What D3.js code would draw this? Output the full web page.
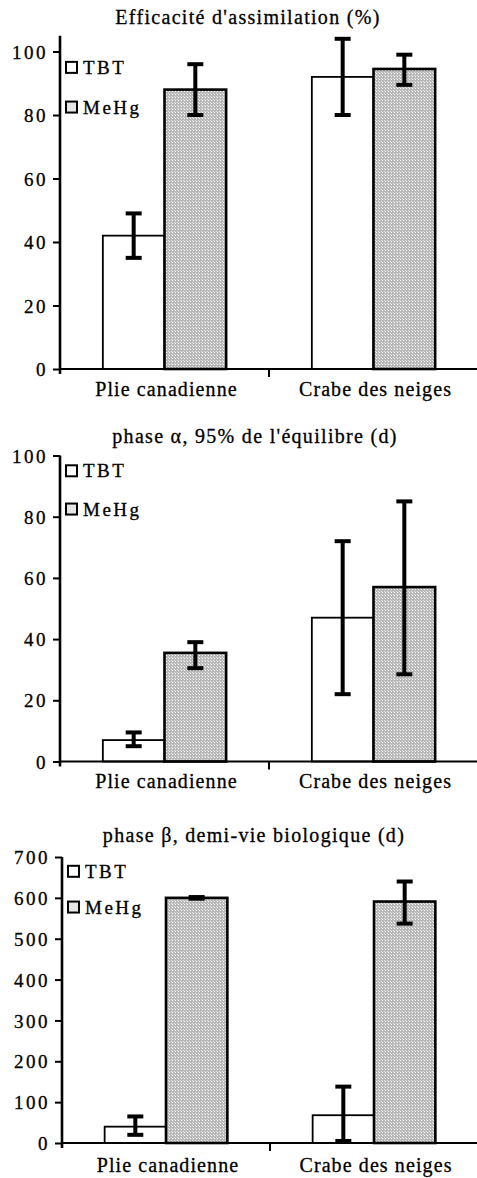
<!DOCTYPE html>
<html>
<head>
<meta charset="utf-8">
<script src="https://cdn.jsdelivr.net/npm/d3@7"></script>
<style>
  body { margin: 0; background: #fff; }
  text { font-family: "Liberation Serif", "Times New Roman", serif; fill: #000; stroke: #000; stroke-width: 0.3px; }
</style>
</head>
<body>
<div id="chart"></div>
<script>
// categories
const species = ["Plie canadienne", "Crabe des neiges"];
const compounds = ["TBT", "MeHg"];

// panel 1 : assimilation efficiency (%)
const effTitle = "Efficacité d'assimilation (%)";
const effTicks = [0, 20, 40, 60, 80, 100];
const effTBT = [42, 92];
const effTBTLow = [35, 80];
const effTBTHigh = [49, 104];
const effMeHg = [88, 94.5];
const effMeHgLow = [80, 89.5];
const effMeHgHigh = [96, 99];

// panel 2 : alpha phase, 95% of equilibrium (d)
const alphaTitle = "phase α, 95% de l'équilibre (d)";
const alphaTicks = [0, 20, 40, 60, 80, 100];
const alphaTBT = [7, 47];
const alphaTBTLow = [5, 22];
const alphaTBTHigh = [9.5, 72];
const alphaMeHg = [35.5, 57];
const alphaMeHgLow = [30.5, 28.5];
const alphaMeHgHigh = [39, 85];

// panel 3 : beta phase, biological half-life (d)
const betaTitle = "phase β, demi-vie biologique (d)";
const betaTicks = [0, 100, 200, 300, 400, 500, 600, 700];
const betaTBT = [40, 68];
const betaTBTLow = [20, 5];
const betaTBTHigh = [65, 138];
const betaMeHg = [600, 591];
const betaMeHgLow = [598, 537];
const betaMeHgHigh = [602, 640];

const width = 477, height = 1178;

const svg = d3.select("#chart").append("svg")
    .attr("width", width)
    .attr("height", height);

// stippled grey fill for the MeHg bars
const defs = svg.append("defs");
const pat = defs.append("pattern")
    .attr("id", "stipple")
    .attr("patternUnits", "userSpaceOnUse")
    .attr("width", 3).attr("height", 3);
pat.append("rect").attr("width", 3).attr("height", 3).attr("fill", "#b8b8b8");
pat.append("rect").attr("x", 1).attr("y", 1).attr("width", 1).attr("height", 1).attr("fill", "#fff");
pat.append("rect").attr("x", 0).attr("y", 0).attr("width", 1).attr("height", 1).attr("fill", "#e4e4e4");

const fills = {TBT: "#fff", MeHg: "url(#stipple)"};

function drawPanel(cfg, title, ticks, series) {
  const g = svg.append("g");

  const yMax = d3.max(ticks);
  const y = d3.scaleLinear()
      .domain([0, yMax])
      .range([cfg.y0, cfg.yTop]);

  const x0 = d3.scaleBand()
      .domain(species)
      .range([cfg.axisX, cfg.right]);
  const bw = x0.bandwidth();
  const x1 = d3.scaleBand()
      .domain(compounds)
      .range([bw * 0.205, bw * 0.795]);

  // title
  g.append("text")
      .attr("x", cfg.titleX)
      .attr("y", cfg.titleY)
      .attr("text-anchor", "middle")
      .style("font-size", "20px")
      .style("letter-spacing", "1.3px")
      .text(title);

  // bars
  const rows = [];
  species.forEach((s, i) => {
    compounds.forEach(c => {
      const d = series[c];
      rows.push({s, c, v: d.v[i], lo: d.lo[i], hi: d.hi[i]});
    });
  });

  g.selectAll("rect.bar")
    .data(rows)
    .join("rect")
      .attr("class", "bar")
      .attr("x", d => x0(d.s) + x1(d.c))
      .attr("y", d => y(d.v))
      .attr("width", x1.bandwidth())
      .attr("height", d => y(0) - y(d.v))
      .attr("fill", d => fills[d.c])
      .attr("stroke", "#000")
      .attr("stroke-width", d => d.c === "MeHg" ? 2.6 : 1.8);

  // error bars
  const cx = d => x0(d.s) + x1(d.c) + x1.bandwidth() / 2;
  const err = g.selectAll("g.err")
    .data(rows)
    .join("g")
      .attr("class", "err")
      .attr("stroke", "#000")
      .attr("stroke-width", 4);
  err.append("line")
      .attr("x1", cx).attr("x2", cx)
      .attr("y1", d => y(d.lo)).attr("y2", d => y(d.hi));
  err.append("line")
      .attr("x1", d => cx(d) - 8).attr("x2", d => cx(d) + 8)
      .attr("y1", d => y(d.hi)).attr("y2", d => y(d.hi));
  err.append("line")
      .attr("x1", d => cx(d) - 8).attr("x2", d => cx(d) + 8)
      .attr("y1", d => y(d.lo)).attr("y2", d => y(d.lo));

  // y axis
  const yAxis = g.append("g")
      .attr("transform", `translate(${cfg.axisX},0)`)
      .call(d3.axisLeft(y).tickValues(ticks).tickSize(7).tickSizeOuter(0).tickPadding(5));
  yAxis.select(".domain").remove();
  yAxis.selectAll(".tick line").attr("stroke", "#000").attr("stroke-width", 2);
  yAxis.selectAll(".tick text")
      .attr("dy", "0.35em")
      .style("font-size", "19px")
      .style("font-family", "'Liberation Serif', serif")
      .style("letter-spacing", "2.5px");
  g.append("line")
      .attr("x1", cfg.axisX).attr("x2", cfg.axisX)
      .attr("y1", y(cfg.axisTop)).attr("y2", cfg.y0 + 5)
      .attr("stroke", "#000").attr("stroke-width", 2.6);

  // x axis
  g.append("line")
      .attr("x1", cfg.axisX).attr("x2", cfg.right)
      .attr("y1", cfg.y0).attr("y2", cfg.y0)
      .attr("stroke", "#000").attr("stroke-width", 2.2);
  g.append("line")
      .attr("x1", x0(species[1])).attr("x2", x0(species[1]))
      .attr("y1", cfg.y0).attr("y2", cfg.y0 + 8)
      .attr("stroke", "#000").attr("stroke-width", 2);

  g.selectAll("text.cat")
    .data(species)
    .join("text")
      .attr("class", "cat")
      .attr("x", d => x0(d) + bw / 2 + 2)
      .attr("y", cfg.labelY)
      .attr("text-anchor", "middle")
      .style("font-size", "20px")
      .style("letter-spacing", "1.1px")
      .text(d => d);

  // legend
  const leg = g.selectAll("g.leg")
    .data(compounds)
    .join("g")
      .attr("class", "leg")
      .attr("transform", (d, i) => `translate(${cfg.axisX + 6},${y(yMax * (i === 0 ? 0.95 : 0.825))})`);
  leg.append("rect")
      .attr("x", 0).attr("y", -5.5)
      .attr("width", 11).attr("height", 11)
      .attr("fill", d => d === "MeHg" ? "#e6e6e6" : "#fff")
      .attr("stroke", "#000").attr("stroke-width", 2);
  leg.append("text")
      .attr("x", 17).attr("y", 6.5)
      .style("font-size", "19px")
      .style("letter-spacing", "2.5px")
      .text(d => d);
}

drawPanel(
  {axisX: 60, right: 478, y0: 369, yTop: 51.5, axisTop: 105, titleX: 248, titleY: 24, labelY: 396},
  effTitle, effTicks,
  {TBT: {v: effTBT, lo: effTBTLow, hi: effTBTHigh},
   MeHg: {v: effMeHg, lo: effMeHgLow, hi: effMeHgHigh}}
);

drawPanel(
  {axisX: 60, right: 478, y0: 761.5, yTop: 455.5, axisTop: 100, titleX: 255, titleY: 443, labelY: 788},
  alphaTitle, alphaTicks,
  {TBT: {v: alphaTBT, lo: alphaTBTLow, hi: alphaTBTHigh},
   MeHg: {v: alphaMeHg, lo: alphaMeHgLow, hi: alphaMeHgHigh}}
);

drawPanel(
  {axisX: 62, right: 478, y0: 1143, yTop: 857, axisTop: 700, titleX: 254, titleY: 842, labelY: 1172},
  betaTitle, betaTicks,
  {TBT: {v: betaTBT, lo: betaTBTLow, hi: betaTBTHigh},
   MeHg: {v: betaMeHg, lo: betaMeHgLow, hi: betaMeHgHigh}}
);
</script>
</body>
</html>
